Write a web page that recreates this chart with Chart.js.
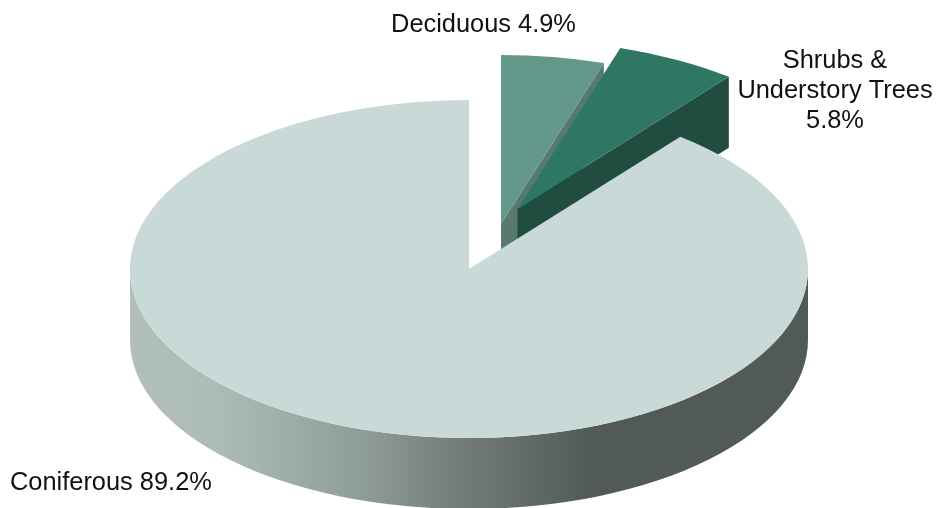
<!DOCTYPE html>
<html>
<head>
<meta charset="utf-8">
<style>
  html, body { margin: 0; padding: 0; background: #fff; overflow: hidden; }
  canvas { display: block; }
</style>
<script src="https://cdn.jsdelivr.net/npm/chart.js@4"></script>
</head>
<body>
<canvas id="chart" width="937" height="508"></canvas>
<script>
const categories = ['Deciduous', 'Shrubs & Understory Trees', 'Coniferous'];
const shares = [4.9, 5.8, 89.2];

const topColors = ['#64988a', '#2f7663', '#c9d9d7'];
const cutColors = ['#567a70', '#214c40', '#525a56'];

// Where each slice's top face sits once pulled apart, in canvas pixels
const sliceCentres = [{ x: 501, y: 224 }, { x: 517.5, y: 209 }, { x: 469, y: 269 }];
const RADIUS_X = 339;
const RADIUS_Y = 169;
const DEPTH = 71;

const rimStops = [
  [0, '#b0bfba'], [0.12, '#adbcb7'], [0.2, '#a3b2ad'], [0.33, '#919f9b'],
  [0.49, '#727c79'], [0.68, '#525a56'], [1, '#525a56'],
];

// y is the text baseline of the first line
const labelLines = [
  { lines: [`${categories[0]} ${shares[0]}%`], x: 483.5, y: 32, align: 'center' },
  { lines: ['Shrubs &', 'Understory Trees', `${shares[1]}%`], x: 835, y: 68, align: 'center' },
  { lines: [`${categories[2]} ${shares[2]}%`], x: 10, y: 490, align: 'left' },
];

function rimGradient(ctx) {
  const g = ctx.createLinearGradient(130, 0, 808, 0);
  rimStops.forEach(([at, color]) => g.addColorStop(at, color));
  return g;
}

function ellipsePoint(c, angle) {
  return { x: c.x + RADIUS_X * Math.cos(angle), y: c.y + RADIUS_Y * Math.sin(angle) };
}

// The straight wall below a slice's clockwise edge
function drawCutFace(ctx, c, angle, color) {
  const p = ellipsePoint(c, angle);
  ctx.fillStyle = color;
  ctx.beginPath();
  ctx.moveTo(c.x, c.y);
  ctx.lineTo(p.x, p.y);
  ctx.lineTo(p.x, p.y + DEPTH);
  ctx.lineTo(c.x, c.y + DEPTH);
  ctx.closePath();
  ctx.fill();
}

// The curved wall, only where the slice's edge faces the viewer
function drawRim(ctx, c, start, end) {
  const from = Math.max(start, 0);
  const to = Math.min(end, Math.PI);
  if (to <= from) return;
  ctx.fillStyle = rimGradient(ctx);
  ctx.beginPath();
  ctx.ellipse(c.x, c.y, RADIUS_X, RADIUS_Y, 0, from, to);
  ctx.ellipse(c.x, c.y + DEPTH, RADIUS_X, RADIUS_Y, 0, to, from, true);
  ctx.closePath();
  ctx.fill();
}

const tiltedPie = {
  id: 'tiltedPie',
  beforeDatasetDraw(chart) {
    const { ctx } = chart;
    chart.getDatasetMeta(0).data.forEach((arc, i) => {
      const c = sliceCentres[i];
      if (arc.circumference < Math.PI) {
        drawCutFace(ctx, c, arc.endAngle, cutColors[i]);
      }
      drawRim(ctx, c, arc.startAngle, arc.endAngle);

      // let the library draw the slice, squashed into an ellipse
      const sx = RADIUS_X / arc.outerRadius;
      const sy = RADIUS_Y / arc.outerRadius;
      ctx.save();
      ctx.translate(c.x, c.y);
      ctx.scale(sx, sy);
      ctx.translate(-arc.x, -arc.y);
      arc.draw(ctx);
      ctx.restore();
    });
    return false;
  },
  afterDatasetsDraw(chart) {
    const { ctx } = chart;
    ctx.save();
    ctx.fillStyle = '#111';
    ctx.font = '25.4px "Liberation Sans", Arial, sans-serif';
    ctx.textBaseline = 'alphabetic';
    labelLines.forEach((label) => {
      ctx.textAlign = label.align;
      label.lines.forEach((line, n) => ctx.fillText(line, label.x, label.y + n * 30));
    });
    ctx.restore();
  },
};

new Chart(document.getElementById('chart'), {
  type: 'pie',
  data: {
    labels: categories,
    datasets: [{
      data: shares,
      backgroundColor: topColors,
      borderWidth: 0,
    }],
  },
  options: {
    responsive: false,
    animation: false,
    events: [],
    plugins: {
      legend: { display: false },
      tooltip: { enabled: false },
    },
  },
  plugins: [tiltedPie],
});
</script>
</body>
</html>
